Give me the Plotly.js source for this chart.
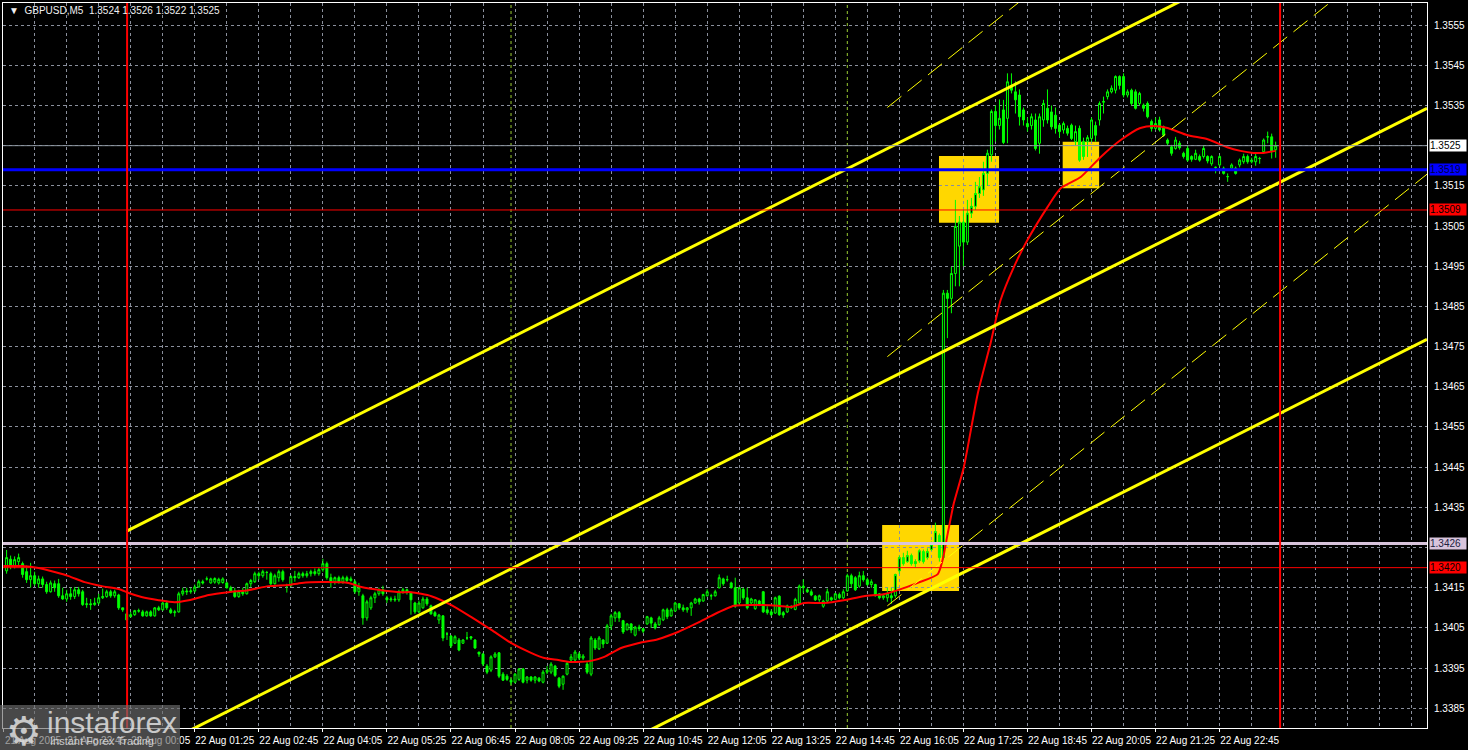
<!DOCTYPE html>
<html><head><meta charset="utf-8">
<script src="https://cdn.plot.ly/plotly-3.0.1.min.js"></script>
<style>html,body{margin:0;padding:0;background:#000;overflow:hidden}#chart{width:1468px;height:750px}</style>
</head><body><div id="chart"></div>
<script>
const symbolTitle = "GBPUSD,M5";
const lastOHLC = ["1.3524", "1.3526", "1.3522", "1.3525"];
const firstBar = -30; // bar index of first candle, 0 = 22 Aug 00:00, 5-minute bars

const openP = [
1.34192,1.34221,1.34204,1.34215,1.34210,1.34190,1.34170,1.34180,1.34160,1.34172,1.34158,1.34140,1.34160,1.34160,1.34130,1.34122,1.34135,1.34128,1.34145,1.34140,
1.34108,1.34110,1.34108,1.34112,1.34125,1.34128,1.34140,1.34130,1.34132,1.34100,1.34085,1.34078,1.34083,1.34093,1.34090,1.34080,1.34090,1.34080,1.34100,1.34095,
1.34112,1.34095,1.34088,1.34090,1.34135,1.34142,1.34140,1.34142,1.34152,1.34165,1.34172,1.34162,1.34164,1.34162,1.34163,1.34162,1.34150,1.34142,1.34128,1.34140,
1.34135,1.34160,1.34165,1.34185,1.34180,1.34188,1.34185,1.34160,1.34175,1.34190,1.34155,1.34155,1.34178,1.34175,1.34185,1.34180,1.34185,1.34190,1.34185,1.34195,
1.34210,1.34175,1.34165,1.34175,1.34165,1.34175,1.34168,1.34165,1.34140,1.34130,1.34075,1.34100,1.34125,1.34135,1.34145,1.34125,1.34120,1.34122,1.34120,
1.34140,1.34145,1.34138,1.34112,1.34090,1.34100,1.34122,1.34105,1.34088,1.34070,1.34080,1.34035,1.34030,1.34012,1.34020,1.34012,1.34025,1.34028,1.34020,1.33990,
1.33985,1.33955,1.33945,1.33978,1.33988,1.33935,1.33930,1.33920,1.33915,1.33922,1.33948,1.33920,1.33928,1.33920,1.33925,1.33915,1.33940,1.33940,1.33955,1.33925,
1.33910,1.33935,1.33970,1.33970,1.33985,1.33975,1.33960,1.33935,1.34020,1.33998,1.34020,1.34012,1.34055,1.34075,1.34088,1.34068,1.34045,1.34060,1.34032,1.34052,
1.34048,1.34060,1.34075,1.34060,1.34058,1.34070,1.34095,1.34080,1.34092,1.34110,1.34100,1.34095,1.34100,1.34112,1.34122,1.34117,1.34130,
1.34130,1.34130,1.34150,1.34172,1.34170,1.34162,1.34150,1.34112,1.34146,1.34125,1.34112,1.34098,1.34117,1.34140,1.34095,1.34090,1.34087,1.34129,1.34088,1.34090,
1.34104,1.34096,1.34112,1.34154,1.34145,1.34140,1.34129,1.34120,1.34104,1.34117,1.34125,1.34121,1.34133,1.34125,1.34142,1.34180,1.34175,1.34154,1.34180,1.34170,
1.34158,1.34158,1.34135,1.34125,1.34125,1.34130,1.34130,1.34192,1.34225,1.34215,1.34230,1.34210,1.34217,1.34240,1.34225,1.34245,1.34262,1.34280,
1.34225,1.34883,1.34870,1.34932,1.35000,1.35060,1.35010,1.35082,1.35099,1.35131,1.35140,1.35181,1.35227,1.35335,1.35300,1.35339,1.35318,1.35400,1.35384,1.35376,
1.35339,1.35305,1.35300,1.35314,1.35256,1.35314,1.35343,1.35334,1.35326,1.35301,1.35289,1.35293,1.35301,1.35260,1.35293,
1.35260,1.35260,1.35268,1.35300,1.35314,1.35358,1.35372,1.35384,1.35388,1.35422,1.35422,1.35376,1.35388,1.35384,1.35355,1.35351,1.35355,1.35310,1.35293,1.35314,
1.35297,1.35264,1.35247,1.35243,1.35256,1.35231,1.35243,1.35223,1.35216,1.35223,1.35223,1.35223,1.35205,1.35196,1.35202,1.35194,1.35173,1.35194,1.35194,1.35202,
1.35210,1.35223,1.35210,1.35210,1.35218,1.35235,1.35272,1.35272,1.35240
];
const highP = [
1.34244,1.34230,1.34228,1.34235,1.34215,1.34205,1.34212,1.34190,1.34180,1.34178,1.34165,1.34168,1.34168,1.34172,1.34150,1.34145,1.34150,1.34152,1.34152,1.34145,
1.34125,1.34122,1.34125,1.34135,1.34148,1.34145,1.34145,1.34145,1.34135,1.34100,1.34088,1.34090,1.34095,1.34098,1.34095,1.34093,1.34094,1.34102,1.34105,1.34115,
1.34118,1.34100,1.34095,1.34140,1.34150,1.34150,1.34150,1.34158,1.34170,1.34170,1.34178,1.34175,1.34176,1.34175,1.34176,1.34165,1.34155,1.34150,1.34145,1.34150,
1.34163,1.34172,1.34190,1.34190,1.34195,1.34192,1.34190,1.34185,1.34195,1.34195,1.34160,1.34182,1.34192,1.34190,1.34190,1.34192,1.34195,1.34198,1.34200,1.34222,
1.34215,1.34185,1.34178,1.34180,1.34180,1.34180,1.34178,1.34170,1.34162,1.34135,1.34120,1.34130,1.34140,1.34150,1.34155,1.34130,1.34128,1.34130,1.34145,
1.34150,1.34148,1.34140,1.34115,1.34118,1.34128,1.34127,1.34108,1.34092,1.34085,1.34082,1.34040,1.34032,1.34032,1.34025,1.34022,1.34040,1.34030,1.34022,1.33990,
1.33988,1.33960,1.33982,1.33990,1.33990,1.33940,1.33935,1.33925,1.33938,1.33950,1.33950,1.33930,1.33930,1.33930,1.33928,1.33945,1.33955,1.33965,1.33958,1.33928,
1.33932,1.33965,1.33985,1.33995,1.33990,1.33985,1.33965,1.34030,1.34025,1.34030,1.34022,1.34060,1.34085,1.34092,1.34092,1.34070,1.34062,1.34062,1.34055,1.34058,
1.34050,1.34080,1.34078,1.34065,1.34080,1.34098,1.34100,1.34100,1.34115,1.34112,1.34108,1.34102,1.34115,1.34125,1.34125,1.34135,1.34146,
1.34135,1.34145,1.34183,1.34175,1.34180,1.34165,1.34175,1.34152,1.34150,1.34150,1.34125,1.34122,1.34120,1.34142,1.34104,1.34096,1.34128,1.34131,1.34092,1.34108,
1.34106,1.34125,1.34158,1.34171,1.34150,1.34146,1.34132,1.34133,1.34120,1.34148,1.34128,1.34137,1.34138,1.34146,1.34185,1.34185,1.34179,1.34190,1.34192,1.34175,
1.34171,1.34160,1.34137,1.34135,1.34150,1.34150,1.34185,1.34230,1.34237,1.34242,1.34235,1.34221,1.34246,1.34245,1.34248,1.34265,1.34312,1.34285,
1.34891,1.34891,1.34949,1.35115,1.35075,1.35090,1.35115,1.35120,1.35160,1.35172,1.35210,1.35240,1.35340,1.35350,1.35365,1.35364,1.35430,1.35430,1.35410,1.35390,
1.35345,1.35320,1.35330,1.35330,1.35330,1.35364,1.35390,1.35350,1.35345,1.35305,1.35310,1.35300,1.35305,1.35300,1.35300,
1.35270,1.35276,1.35320,1.35310,1.35360,1.35372,1.35390,1.35400,1.35425,1.35425,1.35430,1.35390,1.35392,1.35390,1.35384,1.35355,1.35360,1.35315,1.35320,1.35322,
1.35300,1.35268,1.35252,1.35272,1.35262,1.35235,1.35250,1.35226,1.35240,1.35228,1.35250,1.35226,1.35226,1.35198,1.35226,1.35198,1.35181,1.35206,1.35198,1.35218,
1.35230,1.35228,1.35220,1.35230,1.35222,1.35268,1.35285,1.35280,1.35260
];
const lowP = [
1.34185,1.34196,1.34198,1.34205,1.34175,1.34162,1.34150,1.34155,1.34150,1.34150,1.34135,1.34138,1.34140,1.34125,1.34120,1.34115,1.34120,1.34122,1.34128,1.34105,
1.34100,1.34095,1.34105,1.34108,1.34122,1.34125,1.34125,1.34125,1.34095,1.34090,1.34068,1.34076,1.34080,1.34088,1.34078,1.34078,1.34078,1.34078,1.34092,1.34093,
1.34095,1.34085,1.34078,1.34088,1.34130,1.34132,1.34135,1.34138,1.34150,1.34158,1.34168,1.34160,1.34160,1.34158,1.34160,1.34148,1.34138,1.34125,1.34125,1.34130,
1.34133,1.34152,1.34162,1.34170,1.34175,1.34170,1.34155,1.34158,1.34165,1.34165,1.34138,1.34152,1.34165,1.34172,1.34175,1.34175,1.34178,1.34180,1.34180,1.34190,
1.34170,1.34150,1.34158,1.34160,1.34160,1.34162,1.34165,1.34135,1.34130,1.34058,1.34068,1.34095,1.34112,1.34130,1.34130,1.34112,1.34115,1.34115,1.34115,
1.34135,1.34133,1.34083,1.34085,1.34087,1.34098,1.34105,1.34083,1.34078,1.34060,1.34017,1.34020,1.34000,1.34010,1.33992,1.34010,1.34020,1.34020,1.33998,1.33978,
1.33955,1.33935,1.33940,1.33975,1.33925,1.33918,1.33918,1.33908,1.33912,1.33918,1.33912,1.33912,1.33916,1.33912,1.33915,1.33912,1.33935,1.33935,1.33928,1.33900,
1.33896,1.33932,1.33968,1.33965,1.33970,1.33970,1.33935,1.33930,1.33995,1.33995,1.34000,1.34010,1.34045,1.34065,1.34065,1.34035,1.34045,1.34037,1.34029,1.34042,
1.34037,1.34058,1.34050,1.34046,1.34055,1.34067,1.34072,1.34078,1.34090,1.34095,1.34090,1.34088,1.34080,1.34110,1.34108,1.34115,1.34128,
1.34120,1.34128,1.34148,1.34155,1.34165,1.34148,1.34100,1.34108,1.34120,1.34096,1.34108,1.34095,1.34104,1.34087,1.34083,1.34079,1.34085,1.34080,1.34075,1.34087,
1.34098,1.34094,1.34110,1.34137,1.34137,1.34129,1.34117,1.34115,1.34100,1.34112,1.34117,1.34120,1.34121,1.34122,1.34140,1.34150,1.34142,1.34150,1.34165,1.34154,
1.34150,1.34128,1.34121,1.34120,1.34115,1.34110,1.34125,1.34185,1.34205,1.34212,1.34205,1.34200,1.34212,1.34210,1.34220,1.34242,1.34258,1.34215,
1.34220,1.34771,1.34833,1.34900,1.34900,1.34950,1.35003,1.35070,1.35090,1.35120,1.35125,1.35150,1.35210,1.35260,1.35290,1.35254,1.35256,1.35380,1.35330,1.35300,
1.35300,1.35285,1.35290,1.35238,1.35230,1.35297,1.35305,1.35290,1.35280,1.35270,1.35280,1.35275,1.35264,1.35250,1.35210,
1.35215,1.35222,1.35260,1.35260,1.35300,1.35330,1.35365,1.35380,1.35380,1.35390,1.35370,1.35370,1.35350,1.35340,1.35350,1.35335,1.35318,1.35285,1.35289,1.35285,
1.35272,1.35250,1.35225,1.35240,1.35240,1.35218,1.35210,1.35210,1.35214,1.35210,1.35218,1.35206,1.35200,1.35181,1.35198,1.35178,1.35160,1.35190,1.35178,1.35196,
1.35205,1.35205,1.35206,1.35200,1.35205,1.35230,1.35256,1.35218,1.35220
];
const closeP = [
1.34225,1.34205,1.34220,1.34225,1.34183,1.34170,1.34180,1.34160,1.34172,1.34158,1.34140,1.34162,1.34150,1.34130,1.34122,1.34135,1.34128,1.34145,1.34135,1.34108,
1.34110,1.34108,1.34112,1.34125,1.34128,1.34140,1.34130,1.34140,1.34100,1.34095,1.34070,1.34083,1.34093,1.34092,1.34080,1.34090,1.34080,1.34100,1.34095,1.34112,
1.34100,1.34088,1.34090,1.34135,1.34142,1.34140,1.34142,1.34152,1.34165,1.34162,1.34172,1.34172,1.34173,1.34171,1.34172,1.34150,1.34140,1.34128,1.34140,1.34135,
1.34160,1.34168,1.34185,1.34180,1.34190,1.34188,1.34160,1.34180,1.34190,1.34170,1.34155,1.34178,1.34175,1.34185,1.34180,1.34185,1.34190,1.34185,1.34195,1.34210,
1.34175,1.34165,1.34175,1.34165,1.34175,1.34168,1.34172,1.34140,1.34150,1.34075,1.34115,1.34125,1.34135,1.34145,1.34135,1.34120,1.34122,1.34120,1.34140,
1.34145,1.34138,1.34120,1.34090,1.34112,1.34122,1.34110,1.34085,1.34080,1.34082,1.34025,1.34035,1.34005,1.34028,1.33995,1.34020,1.34025,1.34025,1.34000,1.33985,
1.33960,1.33940,1.33978,1.33985,1.33930,1.33920,1.33922,1.33915,1.33935,1.33948,1.33915,1.33928,1.33920,1.33928,1.33918,1.33940,1.33945,1.33960,1.33932,1.33905,
1.33930,1.33962,1.33978,1.33990,1.33975,1.33980,1.33940,1.34025,1.34000,1.34025,1.34010,1.34055,1.34080,1.34088,1.34075,1.34040,1.34060,1.34045,1.34052,1.34048,
1.34042,1.34078,1.34062,1.34050,1.34075,1.34095,1.34078,1.34095,1.34112,1.34100,1.34095,1.34100,1.34112,1.34122,1.34115,1.34133,1.34140,
1.34130,1.34140,1.34175,1.34160,1.34170,1.34150,1.34104,1.34150,1.34125,1.34100,1.34122,1.34120,1.34108,1.34090,1.34088,1.34083,1.34125,1.34083,1.34082,1.34105,
1.34100,1.34121,1.34154,1.34150,1.34140,1.34132,1.34120,1.34130,1.34117,1.34140,1.34120,1.34135,1.34125,1.34140,1.34180,1.34160,1.34145,1.34180,1.34170,1.34158,
1.34165,1.34130,1.34125,1.34130,1.34135,1.34125,1.34183,1.34225,1.34210,1.34230,1.34210,1.34215,1.34242,1.34215,1.34240,1.34258,1.34290,1.34225,
1.34883,1.34870,1.34932,1.35049,1.35060,1.35010,1.35082,1.35099,1.35131,1.35148,1.35181,1.35231,1.35335,1.35300,1.35318,1.35258,1.35409,1.35388,1.35364,1.35322,
1.35314,1.35297,1.35322,1.35243,1.35322,1.35355,1.35314,1.35297,1.35293,1.35285,1.35305,1.35281,1.35268,1.35285,1.35214,
1.35223,1.35270,1.35314,1.35276,1.35355,1.35360,1.35384,1.35393,1.35422,1.35400,1.35376,1.35384,1.35355,1.35343,1.35380,1.35343,1.35322,1.35293,1.35305,1.35289,
1.35276,1.35256,1.35231,1.35264,1.35245,1.35223,1.35214,1.35216,1.35231,1.35214,1.35243,1.35212,1.35223,1.35196,1.35223,1.35181,1.35173,1.35202,1.35181,1.35214,
1.35223,1.35210,1.35214,1.35223,1.35218,1.35264,1.35272,1.35235,1.35250
];

// Moving average (red): bar index and value
const maIdx = [-30.8,-26.2,-22.0,-18.0,-14.5,-10.5,-6.2,-2.0,0.5,3.7,8.0,12.0,15.5,20.5,25.4,30.4,35.4,40.4,43.7,48.7,55.4,58.6,63.6,68.6,71.1,76.1,81.1,86.1,91.1,96.1,101.0,104.3,107.8,111.0,116.0,119.3,123.5,127.7,132.7,137.7,142.7,146.0,151.7,157.7,162.7,165.9,169.2,174.2,179.1,184.1,189.1,192.6,197.6,202.6,203.8,205.1,206.6,209.1,212.6,215.8,218.3,221.6,225.0,230.0,233.3,238.3,243.3,248.3,253.2,256.5,260.0,265.0,270.0,274.9,278.2,281.4,283.9,287.0];
const maVal = [1.34204,1.34204,1.34199,1.34189,1.34179,1.34164,1.34154,1.34147,1.34137,1.34127,1.34119,1.34114,1.34119,1.34132,1.34139,1.34144,1.34154,1.34157,1.34162,1.34164,1.34162,1.34152,1.34144,1.34139,1.34139,1.34129,1.34107,1.34077,1.34045,1.34012,1.33988,1.33975,1.33970,1.33965,1.33968,1.33978,1.34000,1.34012,1.34022,1.34040,1.34063,1.34080,1.34105,1.34107,1.34105,1.34102,1.34112,1.34112,1.34119,1.34129,1.34134,1.34144,1.34162,1.34184,1.34219,1.34286,1.34360,1.34450,1.34634,1.34759,1.34866,1.34948,1.35015,1.35097,1.35144,1.35172,1.35222,1.35264,1.35294,1.35299,1.35294,1.35276,1.35266,1.35246,1.35237,1.35232,1.35232,1.35237];

// Axis ticks
const timeTickIdx = [-30.9,-15,1,17,33,49,65,81,97,113,129,145,161,177,193,209,225,241,257,273];
const timeTickText = ["21 Aug 2025","21 Aug 22:45","22 Aug 00:05","22 Aug 01:25","22 Aug 02:45","22 Aug 04:05","22 Aug 05:25","22 Aug 06:45","22 Aug 08:05","22 Aug 09:25","22 Aug 10:45","22 Aug 12:05","22 Aug 13:25","22 Aug 14:45","22 Aug 16:05","22 Aug 17:25","22 Aug 18:45","22 Aug 20:05","22 Aug 21:25","22 Aug 22:45"];
const priceTicks = [1.3385,1.3395,1.3405,1.3415,1.3425,1.3435,1.3445,1.3455,1.3465,1.3475,1.3485,1.3495,1.3505,1.3515,1.3525,1.3535,1.3545,1.3555];
// tick labels hidden under the level tags in the picture
const coveredTicks = [1.3425, 1.3525];

// Horizontal levels
const levelPrices = [1.3525, 1.3519, 1.3509, 1.3426, 1.3420];
const levelText = ["1.3525", "1.3519", "1.3509", "1.3426", "1.3420"];

// Vertical markers (bar index)
const dayLines = [0.1, 288.1];
const sessionLines = [96, 180];

// Channel lines: [start, end] bar index and prices
const chanIdx = [0, 324.8];
const chanTop = [1.34291, 1.35918];
const chanMid = [1.33716, 1.35343];
const chanLow = [1.33141, 1.34768];
const dashIdx = [190, 324.8];
const dashTop = [1.35345, 1.36419];
const dashMid = [1.34725, 1.35799];
const dashLow = [1.34105, 1.35179];

// Highlight boxes
const boxIdx0 = [188.7, 202.9, 233.8];
const boxIdx1 = [207.9, 217.9, 242.9];
const boxLo = [1.34142, 1.35058, 1.35144];
const boxHi = [1.34306, 1.35224, 1.35260];

// ---------- build ----------
const barIdx = openP.map((_, k) => firstBar + k);
const FONT = "Liberation Sans, Arial, sans-serif";
const GRID = "#8a8f9c";

const traces = [
  {
    type: "candlestick", x: barIdx, open: openP, high: highP, low: lowP, close: closeP,
    increasing: {line: {color: "#00ff00", width: 1}, fillcolor: "#000000"},
    decreasing: {line: {color: "#00ff00", width: 1}, fillcolor: "#00ff00"},
    whiskerwidth: 0, hoverinfo: "skip", showlegend: false
  },
  {
    type: "scatter", mode: "lines", x: maIdx, y: maVal,
    line: {color: "#ff0000", width: 2, shape: "spline", smoothing: 0.6},
    hoverinfo: "skip", showlegend: false
  }
];

const shapes = [];
for (let k = 0; k < boxIdx0.length; k++) {
  shapes.push({type: "rect", xref: "x", yref: "y", x0: boxIdx0[k], x1: boxIdx1[k], y0: boxLo[k], y1: boxHi[k],
    fillcolor: "#ffd700", line: {width: 0}, layer: "below"});
}
sessionLines.forEach(v => shapes.push({type: "line", xref: "x", yref: "paper", x0: v, x1: v, y0: 0, y1: 1,
  line: {color: "#9acd32", width: 1, dash: "3px,3px"}, layer: "below"}));
[chanTop, chanMid, chanLow].forEach(c => shapes.push({type: "line", xref: "x", yref: "y",
  x0: chanIdx[0], x1: chanIdx[1], y0: c[0], y1: c[1], line: {color: "#ffff00", width: 3}, layer: "above"}));
[dashTop, dashMid, dashLow].forEach(c => shapes.push({type: "line", xref: "x", yref: "y",
  x0: dashIdx[0], x1: dashIdx[1], y0: c[0], y1: c[1], line: {color: "#ffff00", width: 1, dash: "18px,8px"}, layer: "above"}));
const levelStyle = [
  {color: "#8c96a0", width: 1}, {color: "#0000ff", width: 3}, {color: "#ff0000", width: 1},
  {color: "#d8c4dc", width: 3}, {color: "#ff0000", width: 1}
];
levelPrices.forEach((p, k) => shapes.push({type: "line", xref: "paper", yref: "y", x0: 0, x1: 1, y0: p, y1: p,
  line: levelStyle[k], layer: "above"}));
dayLines.forEach(v => shapes.push({type: "line", xref: "x", yref: "paper", x0: v, x1: v, y0: 0, y1: 1,
  line: {color: "#ff0000", width: 2}, layer: "above"}));
// watermark panel
shapes.push({type: "rect", xref: "paper", yref: "paper", x0: -0.003, x1: 0.1243, y0: -0.04, y1: 0.0317,
  fillcolor: "rgba(110,110,110,0.66)", line: {width: 0}, layer: "above"});

const labelBg = ["#ffffff", "#0000ff", "#ff0000", "#d8c4dc", "#ff0000"];
const labelFg = ["#000000", "#000040", "#000000", "#202040", "#000000"];
const annotations = levelPrices.map((p, k) => ({
  xref: "paper", yref: "y", x: 1, y: p, xanchor: "left", yanchor: "middle", xshift: 2,
  text: levelText[k], showarrow: false, bgcolor: labelBg[k], borderpad: 0, width: 36, align: "left",
  font: {family: FONT, size: 10, color: labelFg[k]}
}));
annotations.push({xref: "paper", yref: "paper", x: 0.0028, y: 0.989, xanchor: "left", yanchor: "middle",
  text: "\u25BC  " + symbolTitle + "  " + lastOHLC.join(" "), showarrow: false,
  font: {family: FONT, size: 10, color: "#f0f0f0"}});
annotations.push({xref: "paper", yref: "paper", x: 0.001, y: -0.004, xanchor: "left", yanchor: "middle",
  text: "\u2699", showarrow: false, font: {family: "DejaVu Sans", size: 40, color: "rgba(225,225,225,0.85)"}});
annotations.push({xref: "paper", yref: "paper", x: 0.0295, y: 0.008, xanchor: "left", yanchor: "middle",
  text: "instaforex", showarrow: false, font: {family: FONT, size: 30, color: "rgba(225,225,225,0.85)"}});
annotations.push({xref: "paper", yref: "paper", x: 0.0315, y: -0.0185, xanchor: "left", yanchor: "middle",
  text: "Instant Forex Trading", showarrow: false, font: {family: FONT, size: 11, color: "rgba(225,225,225,0.85)"}});

const layout = {
  width: 1468, height: 750,
  margin: {l: 3, r: 41, t: 3, b: 22},
  paper_bgcolor: "#000000", plot_bgcolor: "#000000",
  showlegend: false, dragmode: false,
  xaxis: {
    range: [-30.9, 324.8], tickmode: "array", tickvals: timeTickIdx, ticktext: timeTickText,
    ticks: "outside", ticklen: 3, tickcolor: "#ffffff", ticklabelshift: 30,
    tickfont: {family: FONT, size: 10, color: "#ffffff"},
    showgrid: true, gridcolor: GRID, griddash: "3px,3px", gridwidth: 1,
    minor: {tickmode: "linear", tick0: 1, dtick: 8, showgrid: true, gridcolor: GRID, griddash: "3px,3px", gridwidth: 1, ticks: ""},
    showline: true, linecolor: "#ffffff", linewidth: 1, mirror: true, zeroline: false,
    rangeslider: {visible: false}, fixedrange: true
  },
  yaxis: {
    side: "right", range: [1.33801, 1.35605], tickmode: "array", tickvals: priceTicks,
    ticktext: priceTicks.map(v => coveredTicks.includes(v) ? "" : v.toFixed(4)), ticks: "", ticklabelstandoff: 4,
    tickfont: {family: FONT, size: 10, color: "#ffffff"},
    showgrid: true, gridcolor: GRID, griddash: "3px,3px", gridwidth: 1,
    showline: true, linecolor: "#ffffff", linewidth: 1, mirror: true, zeroline: false, fixedrange: true
  },
  shapes: shapes, annotations: annotations
};

Plotly.newPlot("chart", traces, layout, {staticPlot: true, displayModeBar: false});
</script>
</body></html>
